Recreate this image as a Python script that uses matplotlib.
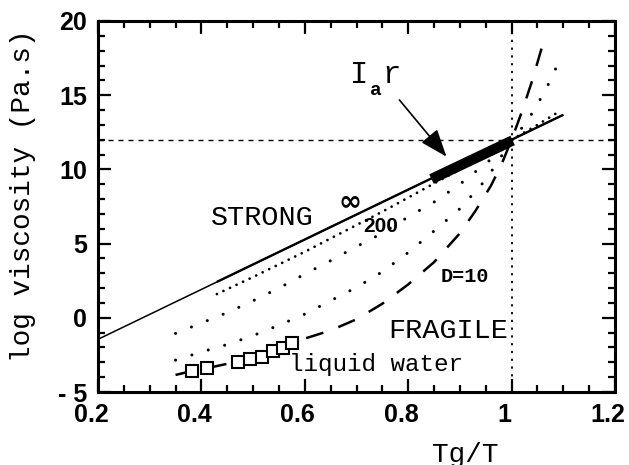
import matplotlib
matplotlib.use('Agg')
import matplotlib.pyplot as plt
from matplotlib.ticker import MultipleLocator, FixedLocator
from matplotlib.transforms import ScaledTranslation

plt.rcParams['lines.scale_dashes'] = False

# ---------------- data ----------------
# D = infinity (Arrhenius, strong)
x_inf = [0.2, 1.0, 1.1]
y_inf = [-1.45, 12.0, 13.68]
x_inf_thick = [0.43, 1.0, 1.1]
y_inf_thick = [2.42, 12.0, 13.68]

# D = 200
x_d200 = [0.43, 0.5, 0.55, 0.6, 0.65, 0.7, 0.75, 0.8, 0.85, 0.9, 0.95, 1.0, 1.05, 1.085]
y_d200 = [1.6, 2.75, 3.6, 4.45, 5.35, 6.25, 7.15, 8.1, 9.05, 10.0, 11.0, 12.0, 13.0, 13.75]

# intermediate (D ~ 50)
x_d50 = [0.35, 0.40, 0.45, 0.50, 0.55, 0.60, 0.65, 0.70, 0.75, 0.80, 0.85, 0.90, 0.95, 0.975, 1.0]
y_d50 = [-1.05, -0.35, 0.35, 1.15, 2.0, 2.95, 3.85, 4.8, 5.7, 6.8, 7.8, 9.0, 10.4, 11.1, 12.0]

# intermediate (D ~ 20)
x_d20 = [0.35, 0.40, 0.45, 0.50, 0.55, 0.60, 0.65, 0.70, 0.75, 0.80, 0.85, 0.90, 0.95, 0.975, 1.0,
         1.02, 1.04, 1.06, 1.075, 1.09]
y_d20 = [-2.85, -2.3, -1.8, -1.2, -0.5, 0.25, 1.15, 2.05, 3.1, 4.4, 5.85, 7.35, 9.3, 10.6, 12.0,
         12.8, 13.8, 15.0, 16.0, 17.15]

# D = 10 (fragile)
x_d10 = [0.35, 0.38, 0.41, 0.45, 0.50, 0.55, 0.60, 0.65, 0.70, 0.75, 0.80, 0.85, 0.90, 0.93,
         0.96, 0.98, 1.00, 1.02, 1.04, 1.06, 1.065]
y_d10 = [-3.85, -3.6, -3.4, -3.1, -2.75, -2.1, -1.4, -0.85, -0.1, 0.95, 2.25, 3.75, 5.7, 7.2,
         8.9, 10.3, 12.0, 13.9, 16.0, 18.4, 19.0]

# liquid water
x_water = [0.381, 0.410, 0.471, 0.494, 0.517, 0.539, 0.558, 0.575]
y_water = [-3.56, -3.40, -2.96, -2.78, -2.62, -2.22, -2.01, -1.68]

# Ir data band
x_ir = [0.845, 1.002]
y_ir = [9.35, 11.95]

# reference lines
tg_ratio = 1.0
log_eta_g = 12.0

xticks = [0.2, 0.4, 0.6, 0.8, 1.0, 1.2]
xticklabels = ['0.2', '0.4', '0.6', '0.8', '1', '1.2']
yticks = [-5, 0, 5, 10, 15, 20]
yticklabels = ['- 5', '0', '5', '10', '15', '20']

# ---------------- figure ----------------
W, H = 629, 465
fig = plt.figure(figsize=(W / 100, H / 100), dpi=100)
ax = fig.add_axes([98 / W, (H - 392) / H, 517 / W, 371 / H])

mono = 'Liberation Mono'
sans = 'Liberation Sans'

# reference lines
ax.axhline(log_eta_g, color='k', lw=1.0, dashes=(3.6, 3.6))
ax.axvline(tg_ratio, color='k', lw=1.3, dashes=(1.6, 4.0))

# curves
ax.plot(x_inf, y_inf, color='k', lw=1.1, solid_capstyle='butt')
ax.plot(x_inf_thick, y_inf_thick, color='k', lw=1.7, solid_capstyle='butt')
ax.plot(x_d200, y_d200, color='k', lw=2.0, dashes=(0.01, 5.2), dash_capstyle='round')
ax.plot(x_d50, y_d50, color='k', lw=2.2, dashes=(0.01, 12.3), dash_capstyle='round')
ax.plot(x_d20, y_d20, color='k', lw=2.2, dashes=(0.01, 12.3), dash_capstyle='round')
ax.plot(x_d10, y_d10, color='k', lw=1.8, dashes=(13, 11.5), dash_capstyle='butt')

# Ir band
ax.plot(x_ir, y_ir, color='k', lw=7.5, solid_capstyle='butt')

# water points
ax.plot(x_water, y_water, ls='none', marker='s', ms=9.2, mfc='white', mec='k', mew=1.5, zorder=5)

# arrow
ax.annotate('', xy=(0.874, 10.86), xytext=(0.783, 14.68),
            arrowprops=dict(arrowstyle='-|>,head_length=0.85,head_width=0.32', lw=1.2,
                            color='k', mutation_scale=20, shrinkA=0, shrinkB=0))

# texts
ax.text(0.705, 15.82, 'I', family=mono, fontsize=22, ha='center', va='baseline')
ax.text(0.738, 15.0, 'a', family=mono, fontsize=14, fontweight='bold', ha='center', va='baseline')
ax.text(0.767, 15.82, 'r', family=mono, fontsize=22, ha='center', va='baseline')
ax.text(0.518, 6.25, 'STRONG', family=mono, fontsize=20.5, ha='center', va='baseline')
ax.text(0.687, 7.3, '\u221e', family='DejaVu Sans', fontsize=20, fontweight='bold',
        ha='center', va='baseline')
ax.text(0.746, 5.78, '200', family=sans, fontsize=15, fontweight='bold', ha='center', va='baseline')
ax.text(0.91, 2.43, 'D=10', family=mono, fontsize=14.5, fontweight='bold', ha='center', va='baseline')
ax.text(0.878, -1.36, 'FRAGILE', family=mono, fontsize=20.5, ha='center', va='baseline')
ax.text(0.737, -3.58, 'liquid water', family=mono, fontsize=17.5, ha='center', va='baseline')

# axes styling
ax.set_xlim(0.2, 1.2)
ax.set_ylim(-5, 20)
ax.xaxis.set_major_locator(FixedLocator(xticks))
ax.yaxis.set_major_locator(FixedLocator(yticks))
ax.xaxis.set_minor_locator(MultipleLocator(0.05))
ax.yaxis.set_minor_locator(MultipleLocator(1))
ax.set_xticklabels(xticklabels, family=sans, fontsize=18, fontweight='bold')
ax.set_yticklabels(yticklabels, family=sans, fontsize=18, fontweight='bold')
ax.tick_params(which='both', direction='in', top=True, right=True, width=1.6, color='k')
ax.tick_params(which='major', length=9.5, pad=8)
ax.tick_params(which='minor', length=5)
for s in ax.spines.values():
    s.set_linewidth(2.2)

shift = ScaledTranslation(-0.07, 0, fig.dpi_scale_trans)
for lab in ax.get_xticklabels():
    lab.set_transform(lab.get_transform() + shift)

fig.text(465 / W, 3 / H, 'Tg/T', family=mono, fontsize=20, ha='center', va='baseline')
fig.text(23.5 / W, (H - 196) / H, 'log viscosity (Pa.s)', family=mono, fontsize=20,
         rotation=90, ha='center', va='center')

fig.savefig('out.png', dpi=100)
